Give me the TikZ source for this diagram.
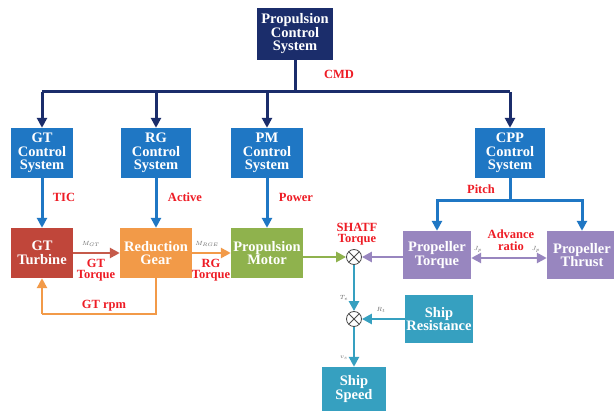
\documentclass[tikz,border=0pt]{standalone}
\usepackage{fontspec}
\setmainfont{Liberation Serif}
\usetikzlibrary{arrows.meta}
\definecolor{navy}{RGB}{27,45,107}
\definecolor{ctrlblue}{RGB}{31,119,196}
\definecolor{gtred}{RGB}{192,70,58}
\definecolor{rgorange}{RGB}{242,154,72}
\definecolor{pmgreen}{RGB}{143,178,77}
\definecolor{ppurple}{RGB}{152,134,191}
\definecolor{steal}{RGB}{54,160,192}
\definecolor{lblred}{RGB}{238,28,37}
\definecolor{gtarrow}{RGB}{197,90,74}
\tikzset{
  blk/.style={inner sep=0pt, text=white, align=center,
    font=\bfseries\fontsize{14.5}{13.5}\selectfont},
  lbl/.style={text=lblred, align=center, inner sep=0pt,
    font=\bfseries\fontsize{12.5}{11.5}\selectfont},
  sml/.style={text=black!60, inner sep=0pt, font=\fontsize{6}{6}\selectfont},
  arr/.style={line width=3pt, -{Triangle[length=10pt,width=10pt]}},
  sumnode/.style={circle, draw=black!70, line width=0.8pt, fill=white,
    minimum size=15pt, inner sep=0pt,
    path picture={\draw[black!70, line width=0.8pt]
      (path picture bounding box.north west) -- (path picture bounding box.south east)
      (path picture bounding box.north east) -- (path picture bounding box.south west);}}
}
\begin{document}
\begin{tikzpicture}[x=1pt,y=-1pt]
\useasboundingbox (0,0) rectangle (614,419);
\fill[white] (0,0) rectangle (614,419);
% top
\node[blk, fill=navy, minimum width=76pt, minimum height=52pt] (pcs) at (295,34) {Propulsion\\Control\\System};
% control systems
\node[blk, fill=ctrlblue, minimum width=62pt, minimum height=50pt] (gtc) at (42,153) {GT\\Control\\System};
\node[blk, fill=ctrlblue, minimum width=70pt, minimum height=50pt] (rgc) at (156,153) {RG\\Control\\System};
\node[blk, fill=ctrlblue, minimum width=72pt, minimum height=50pt] (pmc) at (267,153) {PM\\Control\\System};
\node[blk, fill=ctrlblue, minimum width=70pt, minimum height=50pt] (cppc) at (510,153) {CPP\\Control\\System};
% plant
\node[blk, fill=gtred, minimum width=62pt, minimum height=50pt] (gt) at (42,253) {GT\\Turbine};
\node[blk, fill=rgorange, minimum width=72pt, minimum height=50pt] (rg) at (156,253) {Reduction\\Gear};
\node[blk, fill=pmgreen, minimum width=72pt, minimum height=50pt] (pm) at (267,253) {Propulsion\\Motor};
\node[sumnode] (s1) at (354,257) {};
\node[blk, fill=ppurple, minimum width=68pt, minimum height=48pt] (ptq) at (437,255) {Propeller\\Torque};
\node[blk, fill=ppurple, minimum width=70pt, minimum height=48pt] (pth) at (582,255) {Propeller\\Thrust};
\node[sumnode] (s2) at (354,319) {};
\node[blk, fill=steal, minimum width=68pt, minimum height=48pt] (srs) at (439,319) {Ship\\Resistance};
\node[blk, fill=steal, minimum width=64pt, minimum height=44pt] (spd) at (354,389) {Ship\\Speed};
% command bus
\coordinate (bus) at (295,92);
\coordinate (busl) at (42,92);
\coordinate (busr) at (510,92);
\draw[navy, line width=3pt] (pcs.south) -- (bus);
\draw[navy, line width=3pt] (busl) -- (busr);
\draw[arr, navy] (busl) -- (gtc.north);
\draw[arr, navy] (rgc.north |- bus) -- (rgc.north);
\draw[arr, navy] (pmc.north |- bus) -- (pmc.north);
\draw[arr, navy] (busr) -- (cppc.north);
\node[lbl] (cmd) at (339,74) {CMD};
% control outputs
\draw[arr, ctrlblue] (gtc.south) -- (gt.north);
\draw[arr, ctrlblue] (rgc.south) -- (rg.north);
\draw[arr, ctrlblue] (pmc.south) -- (pm.north);
\node[lbl] (tic) at (64,197) {TIC};
\node[lbl] (act) at (185,197) {Active};
\node[lbl] (pow) at (296,197) {Power};
\coordinate (sp) at (510,201);
\draw[ctrlblue, line width=3pt] (cppc.south) -- (sp);
\draw[arr, ctrlblue] (sp) -| (ptq.north);
\draw[arr, ctrlblue] (sp) -| (pth.north);
\node[lbl] (pitch) at (481,189) {Pitch};
% drivetrain
\draw[arr, gtarrow, line width=2.5pt] (gt.east) -- (rg.west);
\node[sml] (mgt) at (91,244) {$M_{GT}$};
\node[lbl] (gtt) at (96,270) {GT\\Torque};
\draw[arr, rgorange, line width=2.5pt] (rg.east) -- (pm.west);
\node[sml] (mrg) at (207,244) {$M_{RGE}$};
\node[lbl] (rgt) at (211,270) {RG\\Torque};
\coordinate (fb) at (42,314);
\draw[rgorange, line width=2.5pt] (rg.south) |- (fb);
\draw[arr, rgorange, line width=2.5pt] (fb) -- (gt.south);
\node[lbl] (rpm) at (104,306) {GT rpm};
\draw[arr, pmgreen, line width=2.5pt] (pm.east |- s1) -- (s1.west);
\node[lbl] (shaft) at (357,234) {SHATF\\Torque};
\draw[arr, ppurple, line width=2.5pt] (ptq.west |- s1) -- (s1.east);
\draw[ppurple, line width=2.5pt, {Triangle[length=10pt,width=10pt]}-{Triangle[length=10pt,width=10pt]}] (ptq.east |- 0,258) -- (pth.west |- 0,258);
\node[lbl] (adv) at (511,240) {Advance\\ratio};
\node[sml] (jp1) at (478,249) {$J_p$};
\node[sml] (jp2) at (536,249) {$J_p$};
% ship dynamics
\draw[arr, steal, line width=2.5pt] (s1.south) -- (s2.north);
\node[sml] (te) at (344,298) {$T_e$};
\draw[arr, steal, line width=2.5pt] (srs.west |- s2) -- (s2.east);
\node[sml] (rt) at (381,310) {$R_t$};
\draw[arr, steal, line width=2.5pt] (s2.south) -- (spd.north);
\node[sml] (vs) at (344,358) {$v_s$};
\end{tikzpicture}
\end{document}
